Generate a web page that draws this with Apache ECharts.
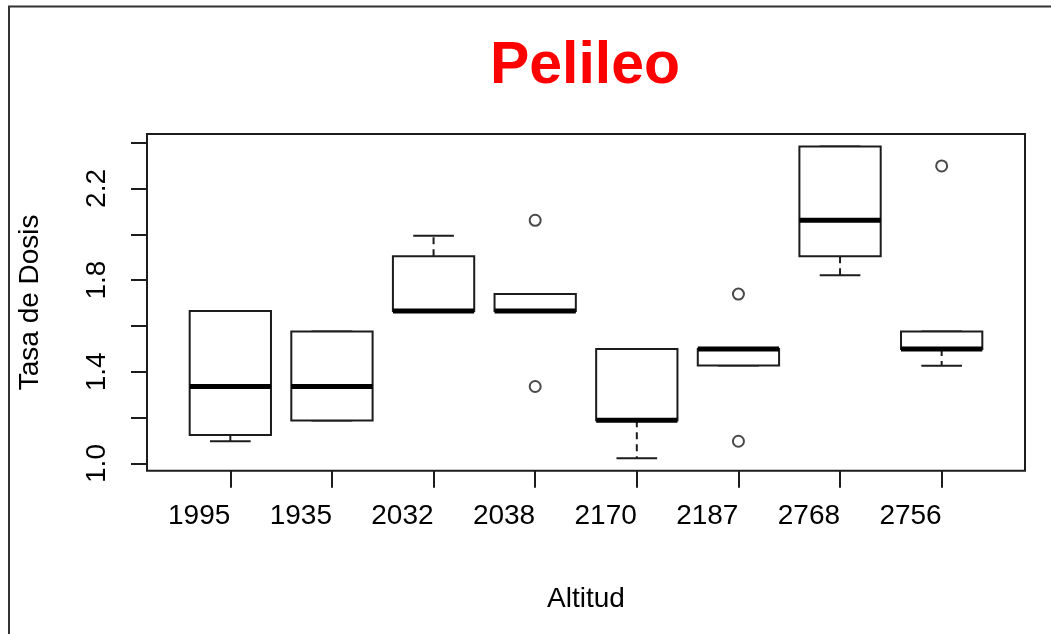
<!DOCTYPE html>
<html>
<head>
<meta charset="utf-8">
<script src="https://cdn.jsdelivr.net/npm/echarts@6/dist/echarts.min.js"></script>
<style>
  html, body { margin: 0; padding: 0; background: #fff; }
  #chart { width: 1051px; height: 634px; }
</style>
</head>
<body>
<div id="chart"></div>
<script>
// ---- Data ----
var categories   = ['1995', '1935', '2032', '2038', '2170', '2187', '2768', '2756'];
var lowerWhisker = [1.097, 1.188, 1.665, 1.665, 1.023, 1.428, 1.821, 1.426];
var q1Values     = [1.124, 1.188, 1.665, 1.665, 1.189, 1.428, 1.904, 1.500];
var medianValues = [1.336, 1.336, 1.665, 1.665, 1.189, 1.500, 2.061, 1.500];
var q3Values     = [1.665, 1.576, 1.904, 1.739, 1.500, 1.500, 2.383, 1.576];
var upperWhisker = [1.665, 1.576, 1.993, 1.739, 1.500, 1.500, 2.383, 1.576];
// outliers: [category index, value]
var outlierIndex  = [3, 3, 5, 5, 7];
var outlierValues = [2.061, 1.336, 1.739, 1.097, 2.298];
// tick labels
var yTickValues  = [1.0, 1.2, 1.4, 1.6, 1.8, 2.0, 2.2, 2.4];
var yLabelValues = [1.0, 1.4, 1.8, 2.2];

var FONT = 'Liberation Sans, Arial, sans-serif';
var INK = '#1c1c1c';
var LW = 2;

var xPositions = categories.map(function (c, i) { return i + 1; });
var boxData = categories.map(function (c, i) {
  return [xPositions[i], lowerWhisker[i], q1Values[i], medianValues[i], q3Values[i], upperWhisker[i]];
});
var outlierData = outlierIndex.map(function (ci, k) { return [xPositions[ci], outlierValues[k]]; });

function renderBox(params, api) {
  var x = api.value(0);
  var lo = api.coord([x, api.value(1)]);
  var q1 = api.coord([x, api.value(2)]);
  var md = api.coord([x, api.value(3)]);
  var q3 = api.coord([x, api.value(4)]);
  var hi = api.coord([x, api.value(5)]);
  var w = api.size([0.8, 0])[0];
  var cx = lo[0];
  var capHalf = w / 4;
  var lineStyle = { stroke: INK, lineWidth: LW, fill: null };
  var dashStyle = { stroke: INK, lineWidth: LW, lineDash: [7, 5], fill: null };
  return {
    type: 'group',
    children: [
      { type: 'line', shape: { x1: cx, y1: q3[1], x2: cx, y2: hi[1] }, style: dashStyle },
      { type: 'line', shape: { x1: cx, y1: q1[1], x2: cx, y2: lo[1] }, style: dashStyle },
      { type: 'line', shape: { x1: cx - capHalf, y1: hi[1], x2: cx + capHalf, y2: hi[1] }, style: lineStyle },
      { type: 'line', shape: { x1: cx - capHalf, y1: lo[1], x2: cx + capHalf, y2: lo[1] }, style: lineStyle },
      { type: 'rect', shape: { x: cx - w / 2, y: q3[1], width: w, height: q1[1] - q3[1] },
        style: { stroke: INK, lineWidth: LW, fill: '#fff' } },
      { type: 'line', shape: { x1: cx - w / 2, y1: md[1], x2: cx + w / 2, y2: md[1] },
        style: { stroke: '#000', lineWidth: 5 } }
    ]
  };
}

var chart = echarts.init(document.getElementById('chart'), null, { renderer: 'canvas' });
chart.setOption({
  backgroundColor: '#fff',
  animation: false,
  title: {
    text: 'Pelileo',
    left: 580,
    top: 32,
    textAlign: 'center',
    textStyle: { color: '#ff0000', fontSize: 59, fontWeight: 'bold', fontFamily: FONT }
  },
  grid: {
    left: 147, top: 134, width: 878, height: 336.7,
    show: true, borderColor: INK, borderWidth: LW, backgroundColor: 'transparent'
  },
  xAxis: {
    type: 'value',
    min: 0.18, max: 8.82,
    name: 'Altitud',
    nameLocation: 'middle',
    nameGap: 115,
    nameTextStyle: { color: '#000', fontSize: 28, fontFamily: FONT },
    axisLine: { show: false },
    splitLine: { show: false },
    axisTick: { show: true, customValues: xPositions, length: 17, lineStyle: { color: INK, width: LW } },
    axisLabel: {
      customValues: xPositions,
      formatter: function (v) { return categories[Math.round(v) - 1]; },
      align: 'right',
      margin: 32,
      color: '#000', fontSize: 28, fontFamily: FONT
    }
  },
  yAxis: {
    type: 'value',
    min: 0.9686, max: 2.4374,
    name: 'Tasa de Dosis',
    nameLocation: 'middle',
    nameGap: 103,
    nameRotate: 90,
    nameTextStyle: { color: '#000', fontSize: 28, fontFamily: FONT },
    axisLine: { show: false },
    splitLine: { show: false },
    axisTick: { show: true, customValues: yTickValues, length: 16, lineStyle: { color: INK, width: LW } },
    axisLabel: {
      customValues: yLabelValues,
      formatter: function (v) { return Number(v).toFixed(1); },
      rotate: 90,
      margin: 36,
      color: '#000', fontSize: 28, fontFamily: FONT
    }
  },
  graphic: [
    { type: 'polyline', shape: { points: [[9, 634], [9, 6.5], [1051, 6.5]] },
      style: { stroke: '#333', lineWidth: 2, fill: null }, silent: true }
  ],
  series: [
    {
      type: 'custom',
      renderItem: renderBox,
      data: boxData,
      encode: { x: 0, y: [1, 2, 3, 4, 5] },
      z: 2
    },
    {
      type: 'scatter',
      data: outlierData,
      symbol: 'emptyCircle',
      symbolSize: 11,
      itemStyle: { color: INK, borderColor: INK, borderWidth: LW },
      z: 3
    }
  ]
});
</script>
</body>
</html>
